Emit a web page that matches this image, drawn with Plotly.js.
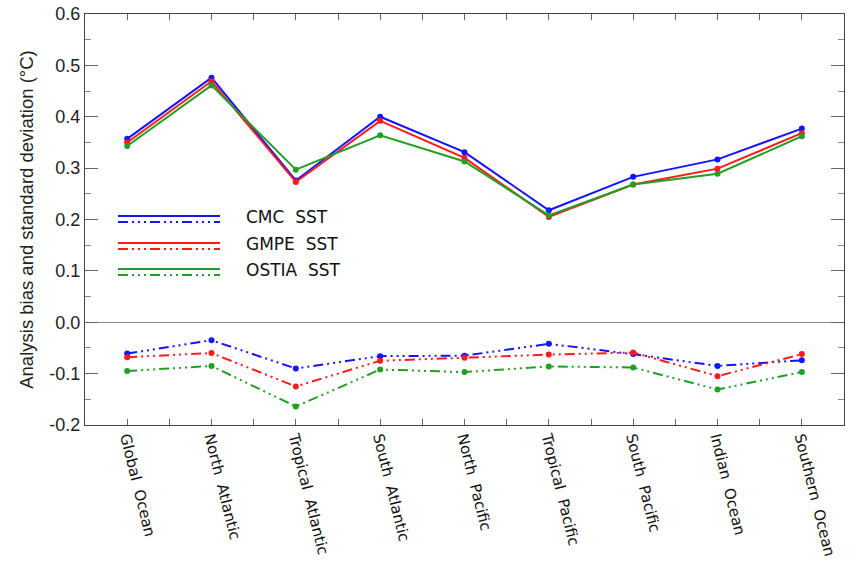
<!DOCTYPE html>
<html>
<head>
<meta charset="utf-8">
<script src="https://cdn.plot.ly/plotly-3.0.1.min.js"></script>
<style>html,body{margin:0;padding:0;background:#fff;}#chart{width:861px;height:561px;}</style>
</head>
<body>
<div id="chart"></div>
<script>
const regions = ["Global  Ocean","North  Atlantic","Tropical  Atlantic","South  Atlantic","North  Pacific","Tropical  Pacific","South  Pacific","Indian  Ocean","Southern  Ocean"];

// standard deviation (solid)
const cmcStd   = [0.357, 0.476, 0.276, 0.400, 0.331, 0.218, 0.283, 0.317, 0.377];
const gmpeStd  = [0.350, 0.469, 0.273, 0.392, 0.320, 0.205, 0.268, 0.299, 0.368];
const ostiaStd = [0.343, 0.461, 0.297, 0.364, 0.313, 0.208, 0.268, 0.289, 0.362];

// bias (dash-dot-dot)
const cmcBias   = [-0.061, -0.035, -0.090, -0.066, -0.065, -0.042, -0.062, -0.085, -0.074];
const gmpeBias  = [-0.068, -0.060, -0.125, -0.075, -0.069, -0.063, -0.059, -0.105, -0.062];
const ostiaBias = [-0.095, -0.085, -0.164, -0.092, -0.097, -0.086, -0.088, -0.131, -0.097];

const yTickVals = [-0.2, -0.1, 0.0, 0.1, 0.2, 0.3, 0.4, 0.5, 0.6];
const yTickText = ["-0.2", "-0.1", "0.0", "0.1", "0.2", "0.3", "0.4", "0.5", "0.6"];

const seriesNames = ["CMC  SST", "GMPE  SST", "OSTIA  SST"];
const colors = ["#1414ff", "#ff1a1a", "#22a022"];
const dashDot3 = "10px,4px,2px,4px,2px,4px,2px,4px";

const xIdx = regions.map((_, i) => i);
const stdSets = [cmcStd, gmpeStd, ostiaStd];
const biasSets = [cmcBias, gmpeBias, ostiaBias];

const traces = [];
stdSets.forEach((s, k) => traces.push({
  x: xIdx, y: s, type: "scatter", mode: "lines+markers", name: seriesNames[k],
  line: {color: colors[k], width: 2}, marker: {color: colors[k], size: 6}, showlegend: false
}));
biasSets.forEach((s, k) => traces.push({
  x: xIdx, y: s, type: "scatter", mode: "lines+markers", name: seriesNames[k] + " bias",
  line: {color: colors[k], width: 2, dash: dashDot3}, marker: {color: colors[k], size: 6}, showlegend: false
}));

// manual legend (two line samples per entry, as in the original)
const L = 85, R = 844, T = 14, B = 425;
const px = v => (v - L) / (R - L);
const py = v => (B - v) / (B - T);
const legendRows = [216, 243, 269];
const shapes = [];
const annotations = [];
legendRows.forEach((yy, k) => {
  shapes.push({type: "line", xref: "paper", yref: "paper", x0: px(118), x1: px(220), y0: py(yy), y1: py(yy),
    line: {color: colors[k], width: 2}});
  shapes.push({type: "line", xref: "paper", yref: "paper", x0: px(118), x1: px(220), y0: py(yy + 6), y1: py(yy + 6),
    line: {color: colors[k], width: 2, dash: dashDot3}});
  annotations.push({xref: "paper", yref: "paper", x: px(244), y: py(yy + 1), xanchor: "left", yanchor: "middle",
    text: seriesNames[k], showarrow: false, font: {family: "DejaVu Sans", size: 17, color: "#111"}});
});

const layout = {
  width: 861, height: 561,
  margin: {l: L, r: 861 - R, t: T, b: 561 - B},
  paper_bgcolor: "#fff", plot_bgcolor: "#fff",
  showlegend: false,
  xaxis: {
    range: [-0.5, 8.5], tickmode: "array", tickvals: xIdx, ticktext: regions,
    tickangle: 76, ticks: "inside", ticklen: 6, tickcolor: "#666", ticklabelstandoff: -3,
    minor: {dtick: 0.5, tick0: 0, ticks: "inside", ticklen: 6, tickcolor: "#666"},
    showgrid: false, zeroline: false, showline: true, linecolor: "#444", linewidth: 1, mirror: "ticks",
    tickfont: {family: "DejaVu Sans", size: 15, color: "#111"}
  },
  yaxis: {
    range: [-0.2, 0.6], tickmode: "array", tickvals: yTickVals, ticktext: yTickText,
    ticks: "inside", ticklen: 13, tickcolor: "#666",
    minor: {dtick: 0.05, tick0: 0, ticks: "inside", ticklen: 6, tickcolor: "#888"},
    showgrid: false, zeroline: true, zerolinecolor: "#888", zerolinewidth: 1,
    showline: true, linecolor: "#444", linewidth: 1, mirror: "ticks",
    tickfont: {family: "Liberation Sans", size: 18, color: "#222"},
    title: {text: "Analysis bias and standard deviation (°C)", standoff: 10,
      font: {family: "Liberation Sans", size: 18.5, color: "#222"}}
  },
  shapes: shapes,
  annotations: annotations
};

Plotly.newPlot("chart", traces, layout, {displayModeBar: false, staticPlot: true});
</script>
</body>
</html>
